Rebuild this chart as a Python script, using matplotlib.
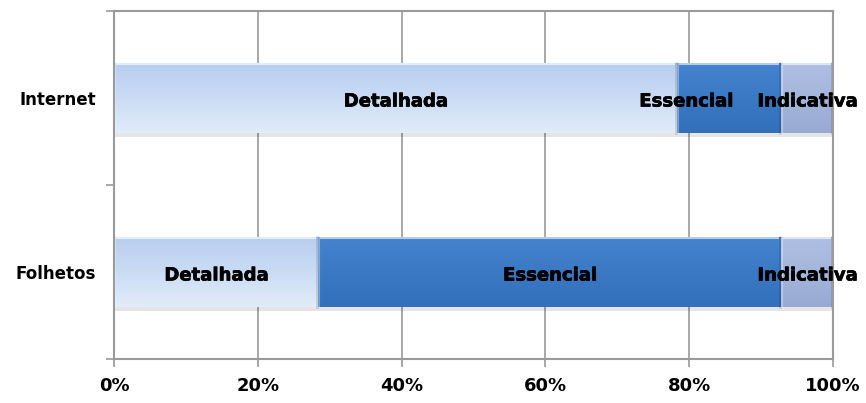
import numpy as np
import matplotlib
matplotlib.use("Agg")
import matplotlib.pyplot as plt
import matplotlib.patheffects as pe
from matplotlib.colors import to_rgb, LinearSegmentedColormap

categories = ["Folhetos", "Internet"]
series_names = ["Detalhada", "Essencial", "Indicativa"]
detalhada = [28.4, 78.3]
essencial = [64.4, 14.5]
indicativa = [7.2, 7.2]
xticks = [0, 20, 40, 60, 80, 100]
xtick_labels = ["0%", "20%", "40%", "60%", "80%", "100%"]

series_values = [detalhada, essencial, indicativa]
# (top, middle, bottom) colours for the bevelled look of each series
series_colors = [
    ("#b9cef0", "#cadcf4", "#e2ecfa"),
    ("#4583cf", "#3b79c5", "#3270bb"),
    ("#aebfe2", "#a4b6db", "#98aad2"),
]
# horizontal nudges for labels that would collide (category, series) -> dx
label_nudge = {(1, 1): -6.0}

plt.rcParams["font.family"] = ["DejaVu Sans"]

fig = plt.figure(figsize=(8.66, 4.03), dpi=100)
ax = fig.add_axes([114 / 866, 1 - 359 / 403, (833 - 114) / 866, (359 - 11) / 403])

grid_color = "#9a9a9a"
ax.set_xlim(0, 100)
ax.set_ylim(-0.5, 1.5)
ax.set_axisbelow(True)
ax.xaxis.grid(True, color=grid_color, linewidth=1.2)

heavy = [pe.withStroke(linewidth=0.5, foreground="black")]

bar_h = 0.40
y = np.arange(len(categories))
left = np.zeros(len(categories))
for si, (vals, cols) in enumerate(zip(series_values, series_colors)):
    vals = np.asarray(vals, dtype=float)
    bars = ax.barh(y, vals, left=left, height=bar_h, color=cols[1],
                   edgecolor="none", zorder=3)
    cmap = LinearSegmentedColormap.from_list(f"s{si}", [to_rgb(c) for c in cols])
    grad = np.linspace(0, 1, 64).reshape(-1, 1)
    for ci, b in enumerate(bars):
        x0, w = b.get_x(), b.get_width()
        y0, h = b.get_y(), b.get_height()
        # soft shadow under the bar
        ax.barh(y[ci] - 0.025, w, left=x0, height=h, color="#000000",
                alpha=0.10, edgecolor="none", zorder=2)
        im = ax.imshow(grad, cmap=cmap, aspect="auto", interpolation="bicubic",
                       extent=(x0, x0 + w, y0, y0 + h), zorder=3.5)
        im.set_clip_path(b)
        # bevel edges
        ax.plot([x0 + 0.25, x0 + w - 0.25], [y0 + h - 0.006] * 2,
                color="white", alpha=0.6, lw=1.5, zorder=4,
                solid_capstyle="butt")
        ax.plot([x0 + w - 0.15] * 2, [y0, y0 + h], color="#000000",
                alpha=0.12, lw=2.0, zorder=4)
        ax.plot([x0 + 0.15] * 2, [y0, y0 + h], color="white",
                alpha=0.35, lw=1.5, zorder=4)
        cx = x0 + w / 2 + label_nudge.get((ci, si), 0.0)
        ax.text(cx, y[ci] - 0.02, series_names[si], ha="center", va="center",
                fontsize=13, fontweight="bold", color="black", zorder=6,
                clip_on=False, path_effects=heavy)
    left = left + vals

ax.set_xticks(xticks)
ax.set_xticklabels(xtick_labels, fontsize=13, fontweight="bold")
ax.set_yticks(y)
ax.set_yticklabels(categories, fontsize=12, fontweight="bold")
ax.set_yticks([-0.5, 0.5, 1.5], minor=True)
ax.tick_params(axis="y", which="major", length=0, pad=13)
ax.tick_params(axis="y", which="minor", length=6, color=grid_color, width=1.2)
ax.tick_params(axis="x", which="major", length=6, color=grid_color, width=1.2,
               pad=7)

for side in ["left", "right", "top", "bottom"]:
    ax.spines[side].set_color(grid_color)
    ax.spines[side].set_linewidth(1.5)
    ax.spines[side].set_zorder(5)

fig.savefig("out.png", dpi=100)
